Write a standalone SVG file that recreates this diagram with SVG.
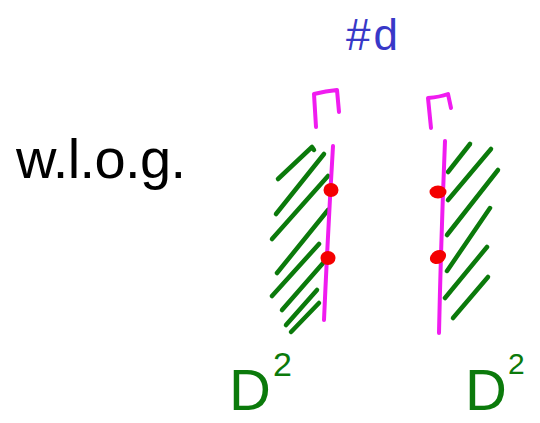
<svg xmlns="http://www.w3.org/2000/svg" width="540" height="423" viewBox="0 0 540 423">
<style>
.mag{fill:none;stroke:#f01cf0;stroke-width:4;stroke-linecap:round;stroke-linejoin:round}
.hat{fill:none;stroke:#0b7a0b;stroke-width:4.5;stroke-linecap:round;stroke-linejoin:round}
.dot{fill:#f40000}
.lbl{font-family:"Liberation Sans",Arial,sans-serif}
</style>
<rect width="540" height="423" fill="#ffffff"/>
<text class="lbl" x="16" y="178" font-size="56" fill="#000000" textLength="170" lengthAdjust="spacing">w.l.o.g.</text>
<text class="lbl" x="346" y="50" font-size="44" fill="#3838c8" letter-spacing="3">#d</text>
<g id="left">
<g class="hat">
<path d="M278,179 L312,147 L314,150"/>
<path d="M276,214 L324,154"/>
<path d="M272,239 L328,176"/>
<path d="M277,273 L328,210"/>
<path d="M272,296 L319,244"/>
<path d="M282,310 L324,262"/>
<path d="M286,325 L317,290"/>
<path d="M291,332 L319,303"/>
</g>
<path class="mag" d="M316,127 L314,94 Q326,91 337,90 L339,112"/>
<path class="mag" d="M333,146 Q328,230 324,320"/>
<ellipse class="dot" cx="331" cy="190" rx="7.5" ry="7"/>
<ellipse class="dot" cx="328" cy="258" rx="7.5" ry="7"/>
<text class="lbl" x="229" y="410" font-size="58" fill="#0b7a0b">D<tspan font-size="34" dy="-34" dx="2">2</tspan></text>
</g>
<g id="right">
<g class="hat">
<path d="M448,172 L470,144"/>
<path d="M448,200 L491,149"/>
<path d="M447,235 L498,170"/>
<path d="M447,271 L490,208"/>
<path d="M445,298 L487,247"/>
<path d="M453,318 L488,277"/>
</g>
<path class="mag" d="M431,128 L428,98 Q440,97 448,94 L451,108"/>
<path class="mag" d="M445,141 Q441,240 439,333"/>
<ellipse class="dot" cx="438" cy="192" rx="8.5" ry="6.5"/>
<ellipse class="dot" cx="438" cy="257" rx="8.5" ry="6.5" transform="rotate(-30 438 257)"/>
<text class="lbl" x="465" y="410" font-size="58" fill="#0b7a0b">D<tspan font-size="30" dy="-36" dx="1">2</tspan></text>
</g>
</svg>
